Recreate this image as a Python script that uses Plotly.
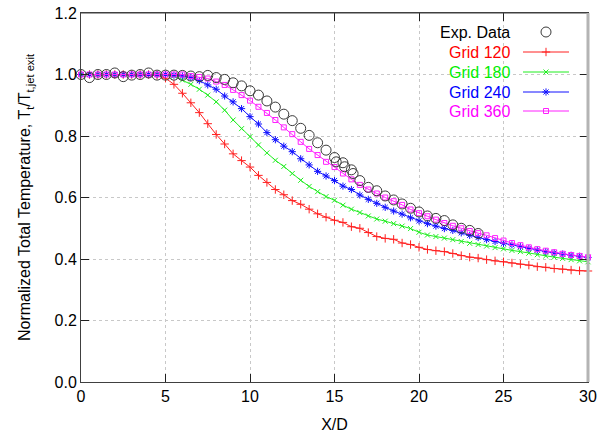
import plotly.graph_objects as go

# ---------------- data ----------------
x_grid = [0, 0.5, 1, 1.5, 2, 2.5, 3, 3.5, 4, 4.5, 5, 5.5, 6, 6.5, 7, 7.5, 8, 8.5, 9, 9.5,
          10, 10.5, 11, 11.5, 12, 12.5, 13, 13.5, 14, 14.5, 15, 15.5, 16, 16.5, 17, 17.5,
          18, 18.5, 19, 19.5, 20, 20.5, 21, 21.5, 22, 22.5, 23, 23.5, 24, 24.5, 25, 25.5,
          26, 26.5, 27, 27.5, 28, 28.5, 29, 29.5, 30]

grid_120 = [1.0, 1.0, 1.0, 1.0, 1.0, 1.0, 1.0, 1.0, 1.0, 0.998, 0.988, 0.968, 0.939, 0.908,
            0.876, 0.840, 0.805, 0.774, 0.742, 0.720, 0.699, 0.672, 0.649, 0.626, 0.609,
            0.590, 0.578, 0.562, 0.547, 0.536, 0.526, 0.519, 0.505, 0.500, 0.486, 0.473,
            0.467, 0.464, 0.452, 0.447, 0.438, 0.431, 0.427, 0.424, 0.418, 0.411, 0.406,
            0.403, 0.398, 0.394, 0.391, 0.387, 0.383, 0.380, 0.375, 0.373, 0.369, 0.367,
            0.364, 0.362, 0.361]

grid_180 = [1.0, 1.0, 1.0, 1.0, 1.0, 1.0, 1.0, 1.0, 1.0, 1.0, 1.0, 0.995, 0.982, 0.968,
            0.952, 0.933, 0.911, 0.884, 0.852, 0.824, 0.798, 0.771, 0.745, 0.721, 0.701,
            0.678, 0.656, 0.636, 0.619, 0.603, 0.591, 0.575, 0.562, 0.551, 0.540, 0.530,
            0.523, 0.515, 0.507, 0.499, 0.487, 0.478, 0.473, 0.468, 0.463, 0.457, 0.451,
            0.447, 0.442, 0.437, 0.433, 0.428, 0.424, 0.419, 0.414, 0.410, 0.406, 0.402,
            0.398, 0.394, 0.391]

grid_240 = [1.0, 1.0, 1.0, 1.0, 1.0, 1.0, 1.0, 1.0, 1.0, 1.0, 1.0, 0.998, 0.995, 0.990,
            0.980, 0.966, 0.952, 0.930, 0.911, 0.889, 0.863, 0.839, 0.811, 0.788, 0.767,
            0.749, 0.726, 0.706, 0.685, 0.670, 0.655, 0.637, 0.626, 0.608, 0.594, 0.581,
            0.568, 0.556, 0.546, 0.534, 0.524, 0.515, 0.507, 0.499, 0.493, 0.485, 0.477,
            0.470, 0.463, 0.457, 0.451, 0.446, 0.440, 0.434, 0.429, 0.424, 0.420, 0.416,
            0.412, 0.409, 0.405]

grid_360 = [1.0, 1.0, 1.0, 1.0, 1.0, 1.0, 1.0, 1.0, 1.0, 1.0, 1.0, 1.0, 1.0, 0.995,
            0.992, 0.987, 0.977, 0.966, 0.950, 0.933, 0.915, 0.895, 0.875, 0.852, 0.828,
            0.806, 0.781, 0.758, 0.738, 0.716, 0.699, 0.678, 0.659, 0.641, 0.626, 0.613,
            0.600, 0.588, 0.576, 0.561, 0.549, 0.539, 0.528, 0.517, 0.508, 0.500, 0.491,
            0.484, 0.477, 0.468, 0.460, 0.452, 0.445, 0.438, 0.432, 0.427, 0.422, 0.417,
            0.413, 0.410, 0.406]

exp_x = [0, 0.5, 1, 1.5, 2, 2.5, 3, 3.5, 4, 4.5, 5, 5.5, 6, 6.5, 7, 7.5, 8, 8.5, 9, 9.5,
         10, 10.5, 11, 11.5, 12, 12.5, 13, 13.5, 14, 14.5, 15, 15.1, 15.5, 15.6, 16, 16.1,
         16.5, 17, 17.5, 18, 18.5, 19, 19.5, 20, 20.5, 21, 21.5, 22, 22.5, 23, 23.5]
exp_y = [1.0, 0.99, 1.0, 1.0, 1.005, 0.993, 0.998, 1.0, 1.005, 0.998, 0.998, 0.998, 0.997,
         0.995, 0.993, 0.997, 0.99, 0.984, 0.973, 0.963, 0.947, 0.933, 0.914, 0.894, 0.871,
         0.85, 0.825, 0.802, 0.778, 0.754, 0.73, 0.716, 0.713, 0.700, 0.690, 0.678, 0.655,
         0.633, 0.622, 0.605, 0.592, 0.579, 0.565, 0.553, 0.54, 0.532, 0.525, 0.511, 0.50,
         0.493, 0.483]

series_names = ["Grid 120", "Grid 180", "Grid 240", "Grid 360"]
series_values = [grid_120, grid_180, grid_240, grid_360]
series_colors = ["#ff2020", "#20ee20", "#1010ff", "#ff20ff"]
series_symbols = ["cross-thin-open", "x-thin-open", "asterisk-open", "square-open"]
series_sizes = [6, 5, 6, 5]

FONT = "Liberation Sans, Arial, sans-serif"

fig = go.Figure()

for name, vals, col, sym, sz in zip(series_names, series_values, series_colors,
                                    series_symbols, series_sizes):
    fig.add_trace(go.Scatter(
        x=x_grid, y=vals, mode="lines+markers", name=name,
        line=dict(color=col, width=1),
        marker=dict(symbol=sym, size=sz, color=col, line=dict(color=col, width=1)),
        showlegend=False, cliponaxis=False))

fig.add_trace(go.Scatter(
    x=exp_x, y=exp_y, mode="markers", name="Exp. Data",
    marker=dict(symbol="circle-open", size=10, color="#3a3a3a", line=dict(width=1)),
    showlegend=False, cliponaxis=False))

# ---------------- custom legend (text left of sample) ----------------
# overlay axes x2/y2 are in page-pixel units of the plotting area
leg_rows = [("Exp. Data", "#000000", None, "circle-open", 10, 32),
            ("Grid 120", "#ff0000", series_colors[0], series_symbols[0], 6, 52),
            ("Grid 180", "#00ee00", series_colors[1], series_symbols[1], 5, 72),
            ("Grid 240", "#0000ff", series_colors[2], series_symbols[2], 6, 92),
            ("Grid 360", "#ff00ff", series_colors[3], series_symbols[3], 5, 111)]
for label, tcol, lcol, sym, sz, py in leg_rows:
    if lcol is not None:
        fig.add_trace(go.Scatter(x=[523, 569], y=[py, py], mode="lines",
                                 line=dict(color=lcol, width=1), xaxis="x2", yaxis="y2",
                                 showlegend=False, hoverinfo="skip"))
        mcol = lcol
    else:
        mcol = "#3a3a3a"
    fig.add_trace(go.Scatter(x=[546], y=[py], mode="markers",
                             marker=dict(symbol=sym, size=sz, color=mcol,
                                         line=dict(color=mcol, width=1)),
                             xaxis="x2", yaxis="y2", showlegend=False, hoverinfo="skip"))
    fig.add_annotation(x=512, y=py, xref="x2", yref="y2", text=label, showarrow=False,
                       xanchor="right", yanchor="middle",
                       font=dict(family=FONT, size=16, color=tcol))

axis_common = dict(
    showline=True, linecolor="#404040", linewidth=1, mirror="ticks",
    ticks="inside", ticklen=8, tickcolor="#202020",
    showgrid=True, gridcolor="#c8c8c8", griddash="dot", gridwidth=1,
    zeroline=False, automargin=False, ticklabeloverflow="allow",
    tickfont=dict(family=FONT, size=16, color="#000000"),
)

fig.update_layout(
    width=609, height=444,
    margin=dict(l=81, r=21, t=13, b=62),
    paper_bgcolor="white", plot_bgcolor="white",
    font=dict(family=FONT, size=16, color="#000000"),
    xaxis=dict(range=[0, 30], tickvals=[0, 5, 10, 15, 20, 25, 30],
               title=dict(text="X/D", font=dict(family=FONT, size=16), standoff=14),
               **axis_common),
    yaxis=dict(range=[0, 1.2], tickvals=[0, 0.2, 0.4, 0.6, 0.8, 1.0, 1.2],
               tickformat=".1f",
               title=dict(text="Normalized Total Temperature, T<sub>t</sub>/T<sub>t,jet exit</sub>",
                          font=dict(family=FONT, size=16), standoff=19),
               **axis_common),
    xaxis2=dict(range=[81, 588], overlaying="x", visible=False, fixedrange=True),
    yaxis2=dict(range=[382, 13], overlaying="y", visible=False, fixedrange=True),
    showlegend=False,
)

# frame: thin dark top line and thick light-grey right border as in the reference
fig.add_shape(type="line", xref="paper", yref="paper", x0=0, x1=1, y0=1, y1=1,
              line=dict(color="#404040", width=1))
fig.add_shape(type="line", xref="paper", yref="paper", x0=1, x1=1, y0=0, y1=1,
              line=dict(color="#b4b4b4", width=3))

# remove the default 8 px page margin so the figure fills the window exactly
fig.write_html("out.html", config={"displayModeBar": False},
               post_script="document.body.style.margin='0';")
